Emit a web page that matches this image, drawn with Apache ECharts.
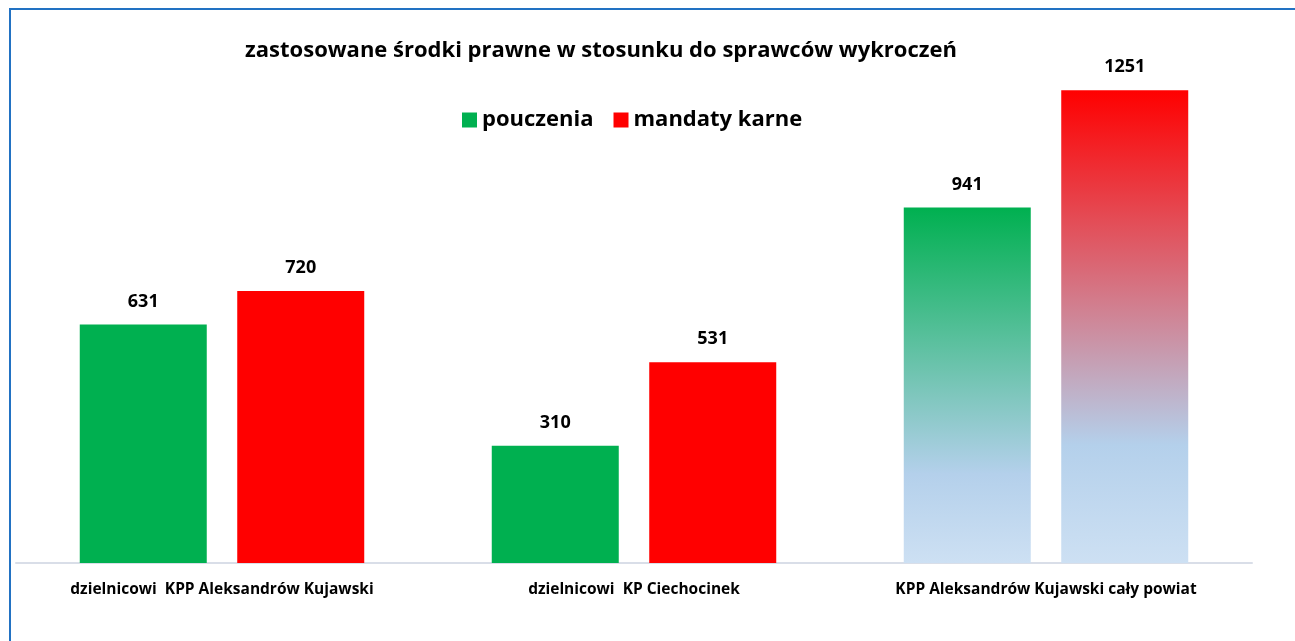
<!DOCTYPE html>
<html>
<head>
<meta charset="utf-8">
<script src="https://cdn.jsdelivr.net/npm/echarts@6/dist/echarts.min.js"></script>
<style>
html,body{margin:0;padding:0;background:#fff;}
#chart{width:1295px;height:641px;}
</style>
</head>
<body>
<div id="chart"></div>
<script>
const titleText = 'zastosowane środki prawne w stosunku do sprawców wykroczeń';
const categories = ['dzielnicowi  KPP Aleksandrów Kujawski', 'dzielnicowi  KP Ciechocinek', 'KPP Aleksandrów Kujawski cały powiat'];
const seriesNames = ['pouczenia', 'mandaty karne'];
const pouczenia = [631, 310, 941];
const mandaty = [720, 531, 1251];

const FONT = 'Open Sans';
const chart = echarts.init(document.getElementById('chart'));

function grad(top) {
  return new echarts.graphic.LinearGradient(0, 0, 0, 1, [
    {offset: 0, color: top},
    {offset: 0.75, color: '#B4D0EB'},
    {offset: 1, color: '#CDE0F3'}
  ]);
}

const labelOpt = {show: true, position: 'top', distance: 14, color: '#000', fontFamily: FONT, fontWeight: 'bold', fontSize: 18};

chart.setOption({
  animation: false,
  backgroundColor: '#fff',
  title: {
    text: titleText, left: 596, top: 35, textAlign: 'center',
    textStyle: {fontFamily: FONT, fontWeight: 'bold', fontSize: 22, color: '#000'}
  },
  legend: {
    data: seriesNames, left: 457, top: 104, itemWidth: 15, itemHeight: 15, itemGap: 20,
    icon: 'rect',
    textStyle: {fontFamily: FONT, fontWeight: 'bold', fontSize: 22, color: '#000'}
  },
  graphic: [{
    type: 'rect', z: -1, shape: {x: 10, y: 9, width: 1320, height: 700},
    style: {fill: 'none', stroke: '#2272C3', lineWidth: 2}
  }],
  grid: {left: 16, right: 43, top: 34, bottom: 78},
  xAxis: {
    type: 'category', data: categories,
    axisLine: {lineStyle: {color: '#D9DEE8', width: 2}},
    axisTick: {show: false},
    axisLabel: {fontFamily: FONT, fontWeight: 'bold', fontSize: 15.5, color: '#000', margin: 19, interval: 0}
  },
  yAxis: {type: 'value', min: 0, max: 1400, show: false, splitLine: {show: false}},
  series: [
    {
      name: 'pouczenia', type: 'bar', barWidth: 127, barGap: '24%',
      itemStyle: {color: '#00B050'},
      data: pouczenia.map((v, i) => i === 2 ? {value: v, itemStyle: {color: grad('#00B050')}} : v),
      label: labelOpt
    },
    {
      name: 'mandaty karne', type: 'bar', barWidth: 127, barGap: '24%',
      itemStyle: {color: '#FF0000'},
      data: mandaty.map((v, i) => i === 2 ? {value: v, itemStyle: {color: grad('#FF0000')}} : v),
      label: labelOpt
    }
  ]
});
</script>
</body>
</html>
